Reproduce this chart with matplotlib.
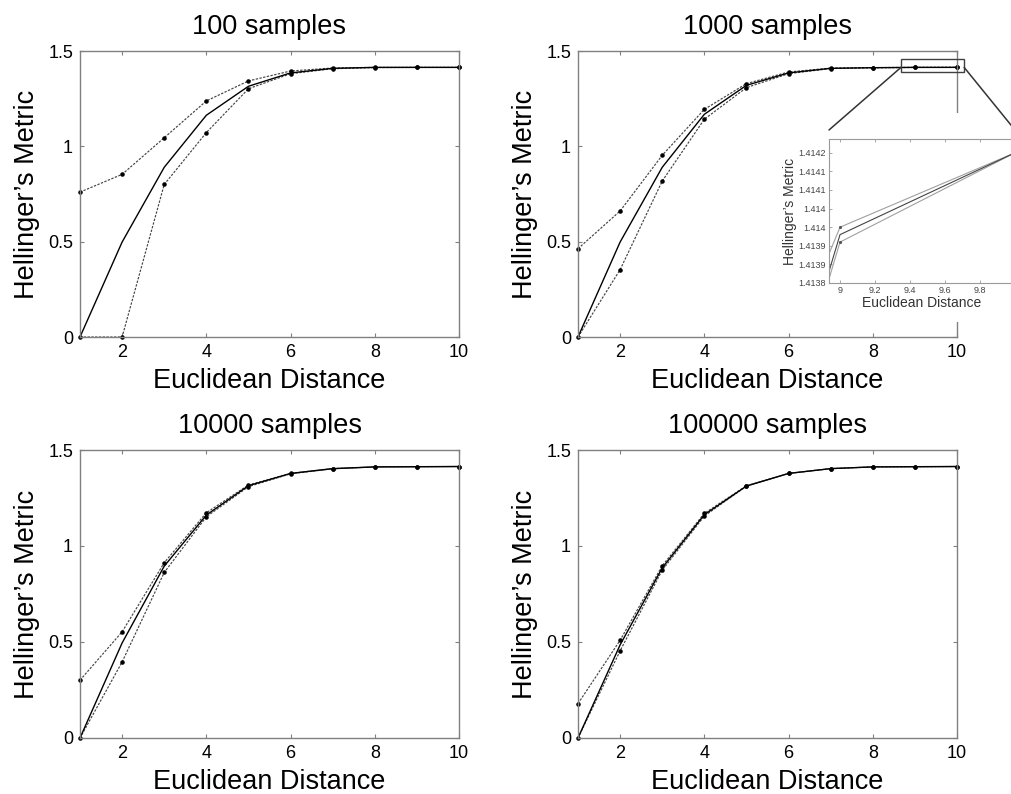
# Hellinger's metric vs Euclidean distance for different sample sizes
import numpy as np
import matplotlib.pyplot as plt
from matplotlib.patches import Rectangle, ConnectionPatch

plt.rcParams['font.family'] = ['Liberation Sans', 'DejaVu Sans']

# data
dist = [1, 2, 3, 4, 5, 6, 7, 8, 9, 10]
titles = ['100 samples', '1000 samples', '10000 samples', '100000 samples']

upper_100 = [0.760, 0.853, 1.045, 1.238, 1.343, 1.395, 1.411, 1.414, 1.414, 1.414]
mean_100 = [0.0, 0.498, 0.890, 1.163, 1.315, 1.385, 1.409, 1.414, 1.414, 1.414]
lower_100 = [0.0, 0.0, 0.800, 1.072, 1.302, 1.381, 1.407, 1.413, 1.414, 1.414]

upper_1000 = [0.463, 0.661, 0.953, 1.194, 1.329, 1.390, 1.4105, 1.41286, 1.41400, 1.41420]
mean_1000 = [0.0, 0.498, 0.890, 1.168, 1.320, 1.385, 1.409, 1.41241, 1.41398, 1.41420]
lower_1000 = [0.0, 0.353, 0.818, 1.142, 1.308, 1.381, 1.408, 1.41239, 1.41396, 1.41420]

upper_10000 = [0.301, 0.553, 0.913, 1.173, 1.318, 1.378, 1.403, 1.412, 1.413, 1.414]
mean_10000 = [0.0, 0.495, 0.895, 1.161, 1.314, 1.378, 1.403, 1.412, 1.413, 1.414]
lower_10000 = [0.0, 0.396, 0.862, 1.152, 1.309, 1.376, 1.402, 1.412, 1.413, 1.414]

upper_100000 = [0.179, 0.509, 0.897, 1.170, 1.314, 1.378, 1.403, 1.412, 1.413, 1.414]
mean_100000 = [0.0, 0.485, 0.886, 1.163, 1.312, 1.378, 1.403, 1.412, 1.413, 1.414]
lower_100000 = [0.0, 0.454, 0.874, 1.156, 1.312, 1.378, 1.403, 1.412, 1.413, 1.414]

inset_yticks = [1.41385, 1.41390, 1.41395, 1.41400, 1.41405, 1.41410, 1.41415, 1.41420]
inset_ylabels = ['1.4138', '1.4139', '1.4139', '1.414', '1.414', '1.4141', '1.4141', '1.4142']
inset_xticks = [9, 9.2, 9.4, 9.6, 9.8, 10]
inset_xlabels = ['9', '9.2', '9.4', '9.6', '9.8', '10']

W, H = 1011, 794
fig = plt.figure(figsize=(W / 100, H / 100), dpi=100)


def px_axes(l, t, r, b):
    return fig.add_axes([l / W, 1 - b / H, (r - l) / W, (b - t) / H])


boxes = [(80, 51, 459, 337), (578, 51, 957, 337),
         (80, 450, 459, 738), (578, 450, 957, 738)]
series = [(upper_100, mean_100, lower_100),
          (upper_1000, mean_1000, lower_1000),
          (upper_10000, mean_10000, lower_10000),
          (upper_100000, mean_100000, lower_100000)]

dash = (0, (2.0, 1.2))
spine_col = '#808080'
axes = []
for box, title, (up, mn, lo) in zip(boxes, titles, series):
    ax = px_axes(*box)
    for s in (up, lo):
        ax.plot(dist, s, linestyle=dash, color='#444444', lw=0.85,
                marker='.', ms=4.5, mfc='k', mec='k', clip_on=False)
    ax.plot(dist, mn, '-', color='k', lw=1.0, clip_on=False)
    ax.set_xlim(1, 10)
    ax.set_ylim(0, 1.5)
    ax.set_xticks([2, 4, 6, 8, 10])
    ax.set_yticks([0, 0.5, 1, 1.5])
    ax.set_yticklabels(['0', '0.5', '1', '1.5'])
    ax.tick_params(direction='in', top=True, right=True, length=3, width=0.8,
                   color=spine_col, labelsize=13, pad=5)
    for sp in ax.spines.values():
        sp.set_color(spine_col)
        sp.set_linewidth(1.0)
    ax.set_title(title, fontsize=19.5, pad=12)
    ax.set_xlabel('Euclidean Distance', fontsize=19.5, labelpad=5)
    ax.set_ylabel('Hellinger\u2019s Metric', fontsize=19.5, labelpad=6)
    axes.append(ax)

ax2 = axes[1]
# zoom box on the 1000 samples plot
ax2.add_patch(Rectangle((8.67, 1.39), 1.5, 0.068, fill=False, ec='#404040',
                        lw=1.0, clip_on=False, zorder=5))

# white backing behind the inset
fig.add_artist(Rectangle((775 / W, 1 - 322 / H), (W - 775) / W, (322 - 113) / H,
                         transform=fig.transFigure, facecolor='white',
                         edgecolor='none', zorder=1))

axins = px_axes(829, 139, 1015, 283)
axins.set_zorder(3)
axins.plot(dist, upper_1000, '-', color='#a0a0a0', lw=0.8, marker='.', ms=2.5,
           mfc='#555', mec='#555')
axins.plot(dist, lower_1000, '-', color='#a0a0a0', lw=0.8, marker='.', ms=2.5,
           mfc='#555', mec='#555')
axins.plot(dist, mean_1000, '-', color='#444444', lw=0.8)
axins.set_xlim(8.937, 10)
axins.set_ylim(1.41385, 1.414237)
axins.set_xticks(inset_xticks)
axins.set_xticklabels(inset_xlabels)
axins.set_yticks(inset_yticks)
axins.set_yticklabels(inset_ylabels)
axins.tick_params(direction='in', top=True, right=True, length=2, width=0.6,
                  color='#999999', labelsize=6.5, labelcolor='#444444', pad=2)
for sp in axins.spines.values():
    sp.set_color('#999999')
    sp.set_linewidth(0.8)
axins.set_xlabel('Euclidean Distance', fontsize=10, color='#333333', labelpad=1)
axins.set_ylabel('Hellinger\u2019s Metric', fontsize=10, color='#333333', labelpad=1)

for xa, xb in [(8.67, 0), (10.17, 1)]:
    con = ConnectionPatch(xyA=(xa, 1.414), coordsA=ax2.transData,
                          xyB=(xb, 1.0625), coordsB=axins.transAxes,
                          color='#333333', lw=1.1)
    con.set_zorder(4)
    fig.add_artist(con)

fig.savefig('out.png', dpi=100)
